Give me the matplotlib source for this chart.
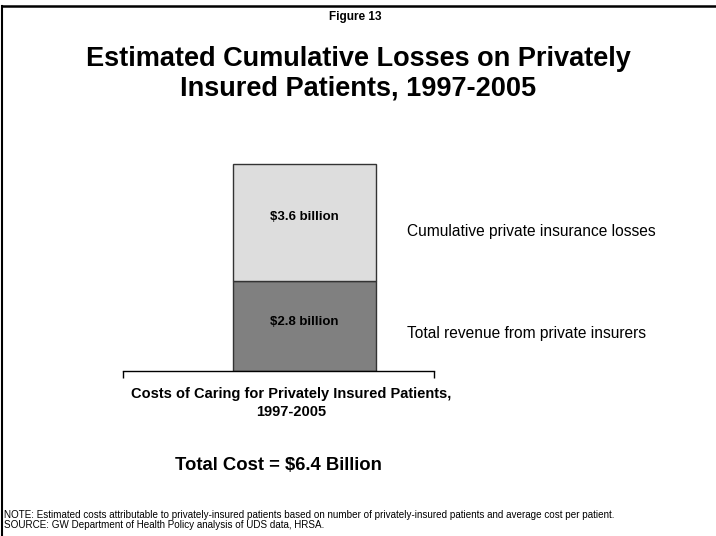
import matplotlib.pyplot as plt
from matplotlib.lines import Line2D

plt.rcParams['font.family'] = ['Liberation Sans', 'DejaVu Sans']

# Data (billions of dollars)
category = 'Costs of Caring for Privately Insured Patients,\n1997-2005'
segments = ['Total revenue from private insurers',
            'Cumulative private insurance losses']
values = [2.8, 3.6]
value_labels = ['$2.8 billion', '$3.6 billion']
colors = ['#808080', '#dddddd']

fig = plt.figure(figsize=(7.16, 5.36), dpi=100)
W, H = 716, 536

# axes placed in pixel terms: left 123, right 434, bottom 371, top 130
ax = fig.add_axes([123 / W, 1 - 371 / H, (434 - 123) / W, (371 - 130) / H])

bottom = 0
for val, lab, seg, col in zip(values, value_labels, segments, colors):
    ax.bar(0, val, width=1.0, bottom=bottom, color=col,
           edgecolor='#333333', linewidth=1.0)
    ax.text(0, bottom + val * 0.545, lab, ha='center', va='center',
            fontsize=9.5, fontweight='bold')
    ax.text(0.72, bottom + val * 0.42, seg, ha='left', va='center',
            fontsize=11.2, clip_on=False)
    bottom += val

ax.set_xlim(-1.27, 0.906)
ax.set_ylim(0, 241 / 32.3)
for s in ['top', 'right', 'left']:
    ax.spines[s].set_visible(False)
ax.spines['bottom'].set_linewidth(1.0)
ax.set_yticks([])
ax.set_xticks([-1.27, 0.906])
ax.set_xticklabels(['', ''])
ax.tick_params(axis='x', length=5, width=1.0, direction='out')

fig.text(291 / W, 1 - 403 / H, category, ha='center', va='center',
         fontsize=10.5, fontweight='bold', linespacing=1.4)

fig.text(355 / W, 1 - 17 / H, 'Figure 13', ha='center', va='center',
         fontsize=8.5, fontweight='bold')
fig.text(358 / W, 1 - 74 / H,
         'Estimated Cumulative Losses on Privately\nInsured Patients, 1997-2005',
         ha='center', va='center', fontsize=19.5, fontweight='bold',
         linespacing=1.18)
fig.text(278 / W, 1 - 466 / H, 'Total Cost = $6.4 Billion', ha='center',
         va='center', fontsize=13.3, fontweight='bold')
fig.text(4 / W, 1 - 520 / H,
         'NOTE: Estimated costs attributable to privately-insured patients based on '
         'number of privately-insured patients and average cost per patient.\n'
         'SOURCE: GW Department of Health Policy analysis of UDS data, HRSA.',
         ha='left', va='center', fontsize=7.1, linespacing=1.05)

# frame lines: top and left
fig.add_artist(Line2D([2 / W, 1], [1 - 6 / H, 1 - 6 / H], color='black',
                      linewidth=1.8, transform=fig.transFigure))
fig.add_artist(Line2D([2 / W, 2 / W], [0, 1 - 6 / H], color='black',
                      linewidth=1.5, transform=fig.transFigure))

fig.savefig('out.png', dpi=100)
